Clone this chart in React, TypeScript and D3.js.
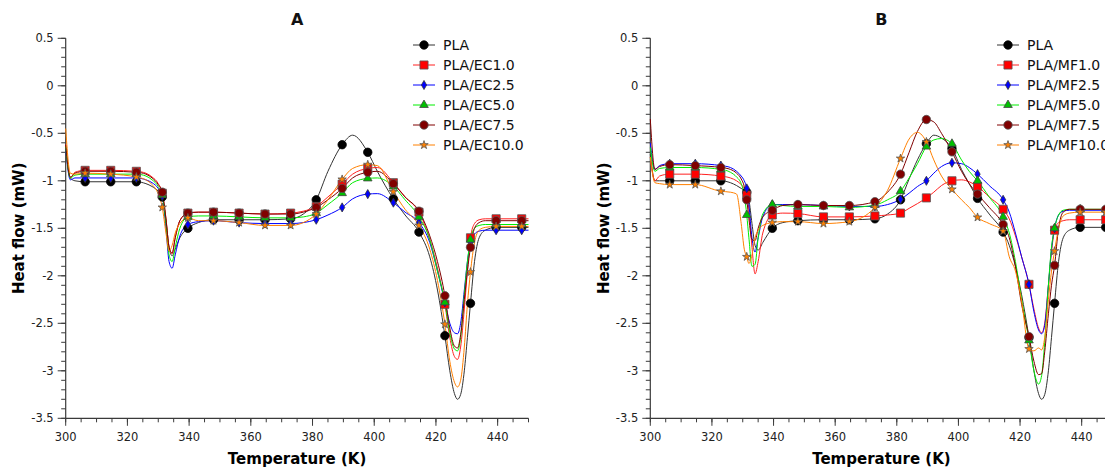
import React from 'react';
import * as d3 from 'd3';

// ---------- DATA ----------
const tempsA = [300, 301.5, 303, 306.3, 314.6, 322.9, 326, 328, 330, 331.3, 332.5, 333.5, 334.5, 335.5, 337, 339.6, 343, 347.9, 356.2, 364.6, 372.9, 377, 381.2, 385, 389.6, 393, 397.9, 401, 406.2, 410, 414.5, 418, 420.5, 422.9, 424.5, 426, 427, 428, 429.2, 430.2, 431.2, 432.5, 434, 436, 439.5, 447.8, 450];

const tempsB = [300, 301.5, 303, 306.3, 314.6, 322.9, 326, 328, 329.5, 330.5, 331.3, 332, 333, 334, 335, 336.5, 339.6, 343, 347.9, 356.2, 364.6, 372.9, 377, 381.2, 384, 386.7, 389.6, 392, 394.5, 397.9, 401, 403.5, 406.2, 410, 414.5, 416.5, 418.5, 420.5, 422.9, 424.5, 426, 427, 428, 429.2, 430.2, 431.2, 432.5, 434, 436, 439.5, 447.8, 450];

const markerTemps = [306.3, 314.6, 322.9, 331.3, 339.6, 347.9, 356.2, 364.6, 372.9, 381.2, 389.6, 397.9, 406.2, 414.5, 422.9, 431.2, 439.5, 447.8];

const labelsA = ['PLA', 'PLA/EC1.0', 'PLA/EC2.5', 'PLA/EC5.0', 'PLA/EC7.5', 'PLA/EC10.0'];
const labelsB = ['PLA', 'PLA/MF1.0', 'PLA/MF2.5', 'PLA/MF5.0', 'PLA/MF7.5', 'PLA/MF10.0'];

const plaA = [-0.65, -0.97, -1.0, -1.01, -1.01, -1.01, -1.03, -1.06, -1.11, -1.17, -1.42, -1.70, -1.79, -1.72, -1.60, -1.50, -1.44, -1.41, -1.41, -1.41, -1.40, -1.35, -1.20, -0.90, -0.62, -0.52, -0.70, -0.90, -1.19, -1.36, -1.54, -1.80, -2.15, -2.63, -3.00, -3.24, -3.30, -3.25, -3.00, -2.65, -2.29, -1.85, -1.60, -1.52, -1.49, -1.49, -1.49];
const ec10 = [-0.62, -0.97, -0.91, -0.89, -0.89, -0.90, -0.92, -0.96, -1.03, -1.13, -1.40, -1.70, -1.77, -1.60, -1.42, -1.34, -1.33, -1.33, -1.34, -1.35, -1.34, -1.32, -1.27, -1.17, -1.035, -0.93, -0.87, -0.86, -1.02, -1.17, -1.33, -1.62, -1.92, -2.30, -2.65, -2.85, -2.88, -2.75, -2.35, -1.95, -1.60, -1.45, -1.41, -1.40, -1.40, -1.40, -1.40];
const ec25 = [-0.66, -0.99, -0.97, -0.97, -0.97, -0.97, -0.99, -1.02, -1.08, -1.16, -1.50, -1.85, -1.92, -1.78, -1.58, -1.46, -1.43, -1.42, -1.44, -1.45, -1.45, -1.44, -1.41, -1.36, -1.28, -1.19, -1.14, -1.135, -1.23, -1.33, -1.44, -1.65, -1.95, -2.28, -2.50, -2.60, -2.61, -2.50, -2.15, -1.85, -1.65, -1.56, -1.53, -1.52, -1.52, -1.52, -1.52];
const ec50 = [-0.64, -0.97, -0.94, -0.93, -0.93, -0.93, -0.95, -0.99, -1.06, -1.15, -1.45, -1.78, -1.85, -1.70, -1.50, -1.38, -1.37, -1.37, -1.38, -1.39, -1.39, -1.38, -1.34, -1.25, -1.13, -1.02, -0.975, -0.97, -1.06, -1.20, -1.38, -1.62, -1.95, -2.28, -2.60, -2.77, -2.79, -2.65, -2.20, -1.85, -1.62, -1.50, -1.47, -1.46, -1.46, -1.46, -1.46];
const ec75 = [-0.62, -0.96, -0.92, -0.90, -0.90, -0.91, -0.93, -0.97, -1.04, -1.12, -1.40, -1.70, -1.76, -1.60, -1.42, -1.34, -1.33, -1.33, -1.34, -1.35, -1.35, -1.33, -1.28, -1.20, -1.08, -0.97, -0.91, -0.90, -1.03, -1.17, -1.32, -1.58, -1.85, -2.21, -2.55, -2.74, -2.76, -2.62, -2.25, -1.95, -1.70, -1.50, -1.44, -1.42, -1.42, -1.42, -1.42];
const ec100 = [-0.45, -0.92, -0.93, -0.92, -0.93, -0.96, -0.99, -1.04, -1.14, -1.28, -1.55, -1.74, -1.68, -1.55, -1.45, -1.39, -1.42, -1.42, -1.44, -1.47, -1.47, -1.44, -1.35, -1.20, -0.985, -0.87, -0.83, -0.84, -1.115, -1.30, -1.47, -1.72, -2.05, -2.51, -2.90, -3.12, -3.17, -3.10, -2.75, -2.30, -1.96, -1.65, -1.52, -1.49, -1.48, -1.48, -1.48];

const plaB = [-0.72, -1.00, -1.00, -1.00, -1.00, -1.00, -1.02, -1.05, -1.08, -1.10, -1.12, -1.20, -1.45, -1.68, -1.73, -1.65, -1.50, -1.44, -1.42, -1.41, -1.41, -1.40, -1.35, -1.20, -0.98, -0.78, -0.61, -0.52, -0.55, -0.66, -0.88, -1.03, -1.185, -1.35, -1.54, -1.68, -1.90, -2.20, -2.65, -3.00, -3.24, -3.30, -3.25, -3.00, -2.65, -2.29, -1.85, -1.60, -1.52, -1.49, -1.49, -1.49];
const mf10 = [-0.75, -1.00, -0.95, -0.93, -0.93, -0.95, -0.97, -1.00, -1.04, -1.08, -1.15, -1.30, -1.70, -1.98, -1.85, -1.55, -1.36, -1.34, -1.345, -1.38, -1.38, -1.37, -1.36, -1.34, -1.29, -1.24, -1.18, -1.12, -1.05, -1.00, -0.99, -1.01, -1.06, -1.17, -1.30, -1.40, -1.58, -1.80, -2.09, -2.35, -2.55, -2.60, -2.50, -2.10, -1.75, -1.52, -1.44, -1.42, -1.41, -1.41, -1.41, -1.41];
const mf25 = [-0.60, -0.88, -0.84, -0.82, -0.82, -0.84, -0.86, -0.90, -0.95, -1.00, -1.08, -1.25, -1.60, -1.75, -1.60, -1.38, -1.25, -1.25, -1.25, -1.26, -1.27, -1.27, -1.25, -1.195, -1.13, -1.06, -1.00, -0.92, -0.85, -0.81, -0.82, -0.86, -0.93, -1.05, -1.20, -1.33, -1.55, -1.80, -2.09, -2.38, -2.57, -2.61, -2.52, -2.10, -1.72, -1.50, -1.36, -1.32, -1.31, -1.31, -1.31, -1.31];
const mf50 = [-0.65, -0.90, -0.87, -0.86, -0.86, -0.88, -0.91, -0.96, -1.03, -1.15, -1.36, -1.60, -1.90, -1.88, -1.60, -1.35, -1.25, -1.26, -1.27, -1.27, -1.28, -1.255, -1.20, -1.11, -0.97, -0.82, -0.64, -0.57, -0.555, -0.61, -0.78, -0.90, -1.00, -1.17, -1.38, -1.55, -1.85, -2.25, -2.68, -3.00, -3.14, -3.05, -2.70, -2.10, -1.70, -1.50, -1.36, -1.31, -1.30, -1.30, -1.30, -1.30];
const mf75 = [-0.35, -0.88, -0.85, -0.83, -0.84, -0.86, -0.88, -0.92, -0.98, -1.06, -1.20, -1.40, -1.62, -1.63, -1.50, -1.38, -1.31, -1.26, -1.25, -1.26, -1.26, -1.22, -1.12, -0.93, -0.70, -0.48, -0.355, -0.38, -0.50, -0.695, -0.90, -1.03, -1.14, -1.28, -1.46, -1.60, -1.90, -2.30, -2.64, -2.90, -3.04, -3.03, -2.80, -2.40, -2.10, -1.89, -1.50, -1.33, -1.30, -1.30, -1.30, -1.30];
const mf100 = [-0.75, -1.02, -1.03, -1.04, -1.04, -1.11, -1.12, -1.14, -1.45, -1.72, -1.80, -1.87, -1.78, -1.60, -1.52, -1.47, -1.44, -1.43, -1.43, -1.45, -1.43, -1.28, -1.10, -0.765, -0.56, -0.49, -0.59, -0.78, -0.95, -1.09, -1.20, -1.28, -1.385, -1.45, -1.53, -1.80, -1.95, -2.27, -2.77, -2.79, -2.76, -2.78, -2.65, -2.25, -1.95, -1.74, -1.50, -1.37, -1.34, -1.33, -1.33, -1.33];

const yMajorTicks = [0.5, 0, -0.5, -1, -1.5, -2, -2.5, -3, -3.5];
const xMajorTicks = [300, 320, 340, 360, 380, 400, 420, 440];

// ---------- STYLE ----------
const lineColors = ['#333333', '#ff2020', '#0000ff', '#00ee00', '#800000', '#ff8000'];
const fillColors = ['#000000', '#ff0000', '#0000ff', '#00c000', '#800000', '#ff8000'];
const strokeColors = ['#000000', '#555555', '#333333', '#444444', '#555555', '#555555'];
const symbolTypes = [d3.symbolCircle, d3.symbolSquare, d3.symbolDiamond, d3.symbolTriangle, d3.symbolCircle, d3.symbolStar];
const symbolSizes = [56, 66, 24, 32, 56, 22];

const FONT = '"DejaVu Sans", Verdana, sans-serif';

type PanelProps = {
  x0: number;
  x1: number;
  title: string;
  temps: number[];
  series: number[][];
  labels: string[];
  legendX: number;
  yLabelX: number;
};

function Panel({ x0, x1, title, temps, series, labels, legendX, yLabelX }: PanelProps) {
  const xs = d3.scaleLinear().domain([300, 450]).range([x0, x1]);
  const ys = d3.scaleLinear().domain([-3.5, 0.5]).range([418.3, 38.3]);
  const line = d3
    .line<[number, number]>()
    .x((d) => xs(d[0]))
    .y((d) => ys(d[1]))
    .curve(d3.curveMonotoneX);

  const xMinor = d3.range(300, 451, 5);
  const yMinor = d3.range(-35, 6, 1).map((v) => v / 10);
  const axisColor = '#3a3a3a';
  const midX = (x0 + x1) / 2;

  return (
    <g>
      <text x={midX} y={25} textAnchor="middle" fontFamily={FONT} fontWeight="bold" fontSize={16} fill="#111">
        {title}
      </text>
      <line x1={x0} x2={x0} y1={ys(0.5)} y2={ys(-3.5)} stroke={axisColor} strokeWidth={1.2} />
      <line x1={x0} x2={x1} y1={ys(-3.5)} y2={ys(-3.5)} stroke={axisColor} strokeWidth={1.2} />
      {yMinor.map((v, i) => (
        <line key={'ym' + i} x1={x0 - 4.5} x2={x0} y1={ys(v)} y2={ys(v)} stroke={axisColor} strokeWidth={1} />
      ))}
      {yMajorTicks.map((v, i) => (
        <g key={'yM' + i}>
          <line x1={x0 - 8} x2={x0} y1={ys(v)} y2={ys(v)} stroke={axisColor} strokeWidth={1} />
          <text x={x0 - 12} y={ys(v)} dy="0.36em" textAnchor="end" fontFamily={FONT} fontSize={11.5} fill="#222">
            {String(v)}
          </text>
        </g>
      ))}
      {xMinor.map((v, i) => (
        <line key={'xm' + i} x1={xs(v)} x2={xs(v)} y1={ys(-3.5)} y2={ys(-3.5) + 4} stroke={axisColor} strokeWidth={1} />
      ))}
      {xMajorTicks.map((v, i) => (
        <g key={'xM' + i}>
          <line x1={xs(v)} x2={xs(v)} y1={ys(-3.5)} y2={ys(-3.5) + 7.5} stroke={axisColor} strokeWidth={1} />
          <text x={xs(v)} y={441} textAnchor="middle" fontFamily={FONT} fontSize={11.5} fill="#222">
            {String(v)}
          </text>
        </g>
      ))}
      <text x={midX} y={464} textAnchor="middle" fontFamily={FONT} fontWeight="bold" fontSize={15} fill="#000">
        Temperature (K)
      </text>
      <text
        transform={`translate(${yLabelX},${(ys(0.5) + ys(-3.5)) / 2}) rotate(-90)`}
        textAnchor="middle"
        dy="0.36em"
        fontFamily={FONT}
        fontWeight="bold"
        fontSize={15}
        fill="#000"
      >
        Heat flow (mW)
      </text>
      {series.map((vals, si) => {
        const pts: [number, number][] = temps.map((t, i) => [t, vals[i]]);
        return <path key={'l' + si} d={line(pts) || ''} fill="none" stroke={lineColors[si]} strokeWidth={1} />;
      })}
      {series.map((vals, si) => {
        const sym = d3.symbol().type(symbolTypes[si]).size(symbolSizes[si])() || '';
        return (
          <g key={'m' + si}>
            {temps.map((t, i) =>
              markerTemps.includes(t) ? (
                <path
                  key={i}
                  d={sym}
                  transform={`translate(${xs(t)},${ys(vals[i])})`}
                  fill={fillColors[si]}
                  stroke={strokeColors[si]}
                  strokeWidth={0.8}
                />
              ) : null
            )}
          </g>
        );
      })}
      {labels.map((lab, si) => {
        const cy = 45 + si * 20;
        const sym = d3.symbol().type(symbolTypes[si]).size(symbolSizes[si])() || '';
        return (
          <g key={'lg' + si}>
            <line x1={legendX} x2={legendX + 22} y1={cy} y2={cy} stroke={lineColors[si]} strokeWidth={1} />
            <path d={sym} transform={`translate(${legendX + 11},${cy})`} fill={fillColors[si]} stroke={strokeColors[si]} strokeWidth={0.8} />
            <text x={legendX + 30} y={cy} dy="0.36em" fontFamily={FONT} fontSize={14} fill="#111">
              {lab}
            </text>
          </g>
        );
      })}
    </g>
  );
}

export default function App() {
  const seriesA = [plaA, ec10, ec25, ec50, ec75, ec100];
  const seriesB = [plaB, mf10, mf25, mf50, mf75, mf100];
  return (
    <svg
      width={1105}
      height={467}
      style={{ position: 'absolute', left: 0, top: 0, background: '#fff', overflow: 'hidden' }}
    >
      <rect x={0} y={0} width={1105} height={467} fill="#fff" />
      <Panel x0={65.7} x1={528.5} title="A" temps={tempsA} series={seriesA} labels={labelsA} legendX={413} yLabelX={19} />
      <Panel x0={650.3} x1={1112.5} title="B" temps={tempsB} series={seriesB} labels={labelsB} legendX={997} yLabelX={604} />
    </svg>
  );
}
